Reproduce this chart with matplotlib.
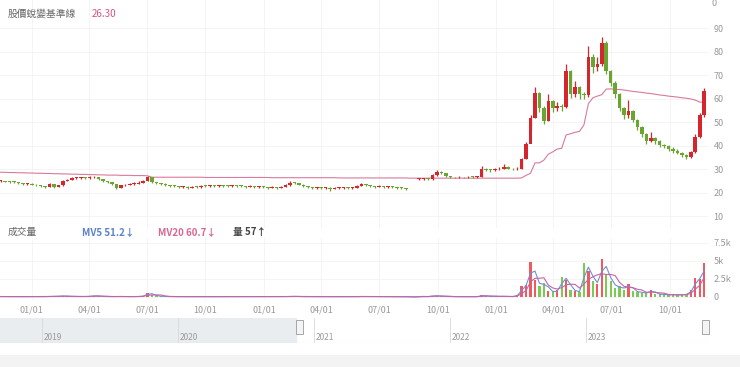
import numpy as np
import pandas as pd
import matplotlib
matplotlib.use("Agg")
import matplotlib.pyplot as plt
import matplotlib.dates as mdates
from matplotlib.patches import Rectangle
from matplotlib.ticker import FuncFormatter

plt.rcParams['font.family'] = ['Noto Sans CJK TC', 'DejaVu Sans']

# weekly candles, first week 2020-11-13
start_date = "2020-11-13"
close = [25.0, 24.8, 24.6, 24.5, 24.2, 23.8, 24.0, 23.6, 23.2, 23.0,
         22.6, 23.8, 22.6, 23.2, 25.2, 25.6, 26.2, 26.4, 26.5, 26.3,
         26.6, 26.8, 25.9, 25.0, 24.5, 23.8, 22.2, 23.2, 23.6, 23.8,
         24.0, 24.4, 25.0, 26.6, 24.6, 24.2, 24.0, 23.4, 23.0, 22.8,
         22.4, 22.6, 22.2, 22.6, 22.4, 23.0, 22.8, 23.2, 22.9, 23.1,
         23.0, 22.8, 23.2, 23.0, 22.8, 22.6, 22.8, 22.4, 22.6, 22.4,
         22.2, 22.4, 22.2, 22.6, 23.2, 24.4, 24.2, 23.6, 23.0, 22.4,
         22.0, 22.1, 22.0, 22.3, 21.6, 22.0, 22.1, 22.2, 22.0, 22.3,
         23.0, 23.9, 23.4, 23.0, 22.6, 22.8, 22.4, 22.6, 22.4, 22.2,
         22.0, 21.7, np.nan, np.nan, 25.9, 26.0, 25.8, 27.6, 29.0, 28.6,
         27.2, 26.8, 26.6, 26.8, 26.6, 26.8, 26.7, 27.0, 30.4, 29.8,
         29.6, 30.0, 30.4, 31.2, 30.4, 30.0, 30.4, 34.5, 41.0, 52.0,
         62.5, 56.0, 50.5, 59.0, 56.0, 57.0, 56.5, 72.0, 62.0, 65.0,
         62.0, 61.5, 78.0, 73.5, 75.0, 84.0, 72.0, 67.0, 62.0, 56.0,
         53.0, 55.0, 51.0, 48.0, 45.0, 42.0, 43.5, 42.0, 40.5, 40.0,
         38.5, 38.0, 37.0, 36.0, 35.5, 37.5, 44.0, 53.0, 63.5]
high = [25.4, 25.2, 25.0, 24.9, 24.7, 24.3, 24.4, 24.1, 23.8, 23.4,
        23.1, 24.3, 23.9, 23.6, 25.6, 26.1, 26.7, 26.9, 27.0, 26.8,
        27.1, 27.4, 26.9, 26.0, 25.1, 24.6, 23.9, 23.6, 24.0, 24.3,
        24.5, 24.9, 25.6, 27.3, 26.7, 24.8, 24.4, 24.1, 23.6, 23.2,
        23.0, 23.0, 22.8, 23.0, 22.9, 23.4, 23.3, 23.6, 23.4, 23.5,
        23.4, 23.2, 23.6, 23.5, 23.2, 23.0, 23.2, 22.9, 23.0, 22.8,
        22.7, 22.8, 22.6, 23.0, 23.7, 24.9, 24.8, 24.3, 23.7, 23.1,
        22.5, 22.5, 22.4, 22.7, 22.4, 22.4, 22.5, 22.6, 22.4, 22.7,
        23.4, 24.3, 24.0, 23.5, 23.1, 23.2, 22.9, 23.0, 22.8, 22.6,
        22.4, 22.1, np.nan, np.nan, 26.4, 26.3, 26.2, 28.2, 29.8, 29.3,
        28.7, 27.3, 27.0, 27.2, 27.0, 27.2, 27.1, 27.4, 31.3, 30.6,
        30.2, 30.5, 31.0, 32.2, 31.3, 30.6, 30.9, 35.0, 41.5, 53.0,
        65.0, 63.0, 57.0, 62.0, 59.5, 58.5, 58.0, 75.0, 72.5, 67.5,
        65.5, 63.0, 82.5, 79.0, 78.0, 86.5, 84.5, 72.5, 67.5, 62.5,
        56.5, 59.5, 55.5, 51.5, 48.5, 45.5, 46.0, 44.0, 42.5, 41.0,
        40.5, 39.5, 38.5, 37.5, 36.5, 38.0, 45.0, 54.0, 64.5]
low = [24.7, 24.5, 24.3, 24.2, 23.9, 23.5, 23.6, 23.3, 22.9, 22.6,
       22.2, 22.5, 22.3, 22.4, 23.1, 25.0, 25.5, 25.9, 26.0, 25.9,
       26.1, 26.3, 25.6, 24.6, 24.1, 23.4, 21.8, 22.0, 23.0, 23.4,
       23.6, 23.9, 24.3, 24.9, 24.2, 23.8, 23.6, 23.0, 22.6, 22.4,
       22.0, 22.1, 21.8, 22.0, 22.0, 22.3, 22.4, 22.7, 22.5, 22.7,
       22.6, 22.4, 22.7, 22.6, 22.4, 22.2, 22.4, 22.0, 22.2, 22.0,
       21.8, 22.0, 21.8, 22.1, 22.5, 23.1, 23.8, 23.2, 22.6, 22.0,
       21.6, 21.7, 21.6, 21.9, 20.8, 21.5, 21.7, 21.8, 21.6, 21.9,
       22.2, 22.9, 23.0, 22.6, 22.2, 22.4, 22.0, 22.2, 22.0, 21.8,
       21.6, 21.4, np.nan, np.nan, 25.5, 25.6, 25.4, 25.7, 27.4, 28.0,
       26.8, 26.4, 26.2, 26.4, 26.2, 26.4, 26.3, 26.5, 26.9, 29.2,
       29.1, 29.4, 29.8, 30.2, 30.0, 29.6, 29.8, 30.2, 34.4, 47.0,
       52.0, 54.5, 49.5, 50.5, 54.5, 55.0, 55.0, 56.0, 60.5, 61.0,
       60.0, 60.0, 61.0, 71.0, 72.0, 74.0, 70.5, 65.5, 60.5, 55.0,
       51.5, 52.0, 50.0, 47.0, 44.0, 41.0, 41.5, 41.0, 39.5, 39.0,
       38.0, 37.0, 36.5, 35.5, 34.5, 35.0, 37.0, 43.5, 52.5]
baseline = [28.8, 28.8, 28.7, 28.7, 28.6, 28.6, 28.5, 28.5, 28.4, 28.4,
            28.3, 28.3, 28.2, 28.2, 28.1, 28.1, 28.0, 28.0, 27.9, 27.9,
            27.8, 27.8, 27.7, 27.7, 27.6, 27.6, 27.6, 27.5, 27.5, 27.5,
            27.4, 27.4, 27.4, 27.3, 26.7, 26.7, 26.7, 26.7, 26.7, 26.7,
            26.7, 26.7, 26.7, 26.7, 26.7, 26.7, 26.6, 26.6, 26.6, 26.6,
            26.6, 26.6, 26.6, 26.6, 26.6, 26.6, 26.6, 26.6, 26.6, 26.6,
            26.6, 26.5, 26.5, 26.5, 26.5, 26.5, 26.5, 26.5, 26.5, 26.5,
            26.5, 26.5, 26.5, 26.5, 26.5, 26.5, 26.4, 26.4, 26.4, 26.4,
            26.4, 26.4, 26.4, 26.4, 26.4, 26.4, 26.4, 26.4, 26.4, 26.4,
            26.4, 26.4, 26.3, 26.3, 26.3, 26.3, 26.3, 26.3, 26.3, 26.3,
            26.3, 26.3, 26.3, 26.3, 26.3, 26.3, 26.3, 26.3, 26.3, 26.3,
            26.3, 26.3, 26.3, 26.3, 26.3, 26.3, 26.3, 26.4, 27.5, 28.4,
            32.8, 32.8, 34.0, 36.5, 37.5, 38.7, 39.0, 44.7, 45.2, 45.8,
            46.2, 49.0, 58.0, 60.5, 61.2, 61.8, 64.2, 64.3, 64.1, 64.0,
            63.8, 63.5, 63.2, 63.0, 62.8, 62.5, 62.3, 62.0, 61.7, 61.5,
            61.2, 61.0, 60.8, 60.5, 60.3, 60.0, 59.5, 58.7, 58.5]
# volume in thousands
volume = [0.06, 0.05, 0.05, 0.04, 0.05, 0.05, 0.06, 0.05, 0.05, 0.04,
          0.05, 0.08, 0.06, 0.12, 0.15, 0.08, 0.06, 0.05, 0.06, 0.08,
          0.1, 0.2, 0.1, 0.06, 0.05, 0.05, 0.08, 0.06, 0.05, 0.05,
          0.06, 0.08, 0.15, 0.6, 0.3, 0.12, 0.08, 0.06, 0.05, 0.05,
          0.04, 0.05, 0.05, 0.04, 0.05, 0.05, 0.04, 0.05, 0.05, 0.04,
          0.04, 0.05, 0.04, 0.04, 0.05, 0.04, 0.04, 0.05, 0.04, 0.04,
          0.04, 0.05, 0.04, 0.05, 0.06, 0.1, 0.08, 0.05, 0.04, 0.04,
          0.04, 0.04, 0.05, 0.04, 0.06, 0.04, 0.04, 0.05, 0.04, 0.05,
          0.06, 0.08, 0.05, 0.04, 0.04, 0.04, 0.04, 0.04, 0.04, 0.04,
          0.04, 0.04, 0.0, 0.0, 0.1, 0.06, 0.05, 0.2, 0.15, 0.08,
          0.06, 0.05, 0.04, 0.04, 0.05, 0.04, 0.04, 0.06, 0.25, 0.12,
          0.08, 0.06, 0.1, 0.08, 0.06, 0.05, 0.3, 1.5, 1.7, 4.9,
          2.3, 1.5, 2.0, 0.8, 0.7, 0.9, 2.8, 2.4, 1.0, 0.8,
          0.7, 4.7, 3.6, 2.2, 1.8, 5.3, 3.2, 2.2, 1.2, 1.5,
          1.0, 1.8, 0.8, 0.7, 0.6, 0.5, 1.0, 0.4, 0.4, 0.3,
          0.3, 0.3, 0.3, 0.3, 0.4, 1.0, 2.6, 2.5, 4.7]

year_labels = ["2019", "2020", "2021", "2022", "2023"]

W, H = 740, 367
fig = plt.figure(figsize=(W / 100, H / 100), dpi=100)
fig.patch.set_facecolor("white")


def px_axes(x0, y0, x1, y1):
    return fig.add_axes([x0 / W, 1 - y1 / H, (x1 - x0) / W, (y1 - y0) / H])


dates = pd.date_range(start_date, periods=len(close), freq="7D")
df = pd.DataFrame({"close": close, "high": high, "low": low,
                   "base": baseline, "vol": volume}, index=dates)
df["open"] = df["close"].shift(1).fillna(df["close"])
up = df["close"] >= df["open"]
RED, GREEN = "#d3262d", "#6aa532"
col = np.where(up, RED, GREEN)

xl = (pd.Timestamp("2020-11-12"), pd.Timestamp("2020-11-12") + pd.Timedelta(days=1113))
qticks = pd.date_range("2021-01-01", "2023-10-01", freq="QS")

# ---- price panel
ax = px_axes(0, 0, 708, 228)
ax.set_xlim(xl)
ax.set_ylim(5.1, 102.1)
for s in ax.spines.values():
    s.set_visible(False)
ax.set_yticks(range(10, 100, 10))
ax.yaxis.tick_right()
ax.tick_params(axis="y", length=0, pad=4, labelsize=6.5, labelcolor="#999999")
ax.set_xticks(qticks)
ax.tick_params(axis="x", length=0, labelbottom=False)
ax.grid(True, color="#f2f2f2", lw=0.6)
ax.set_axisbelow(True)

ax.plot(df.index, df["base"], color="#d87a9c", lw=0.8, zorder=2)
ax.vlines(df.index, df["low"], df["high"], colors=col, lw=0.9, zorder=3)
body = (df["close"] - df["open"]).abs().clip(lower=0.4)
ax.bar(df.index, body, bottom=df[["open", "close"]].min(axis=1),
       width=5.6, color=col, lw=0, zorder=4)

# ---- volume panel
axv = px_axes(0, 238, 708, 300)
axv.set_xlim(xl)
axv.set_ylim(-0.42, 8.19)
for s in axv.spines.values():
    s.set_visible(False)
axv.set_yticks([0, 2.5, 5, 7.5])
axv.yaxis.tick_right()
axv.yaxis.set_major_formatter(FuncFormatter(lambda v, p: "0" if v == 0 else f"{v:g}k"))
axv.tick_params(axis="y", length=0, pad=4, labelsize=6.5, labelcolor="#999999")
axv.set_xticks(qticks)
axv.xaxis.set_major_formatter(mdates.DateFormatter("%m/%d"))
axv.tick_params(axis="x", length=0, pad=4, labelsize=6.5, labelcolor="#999999")
axv.grid(True, color="#f2f2f2", lw=0.6)
axv.set_axisbelow(True)

vcol = np.where(up, "#f05a5e", "#7acb52")
axv.bar(df.index, df["vol"], width=3.6, color=vcol, lw=0, zorder=3)
mv5 = df["vol"].rolling(2, min_periods=1).mean()
mv20 = df["vol"].rolling(4, min_periods=1).mean()
axv.plot(df.index, mv5, color="#6d90d8", lw=0.8, zorder=4)
axv.plot(df.index, mv20, color="#c763a5", lw=0.8, zorder=4)

# ---- navigator
axn = px_axes(0, 318, 708, 343)
nav_l = pd.Timestamp("2018-09-10")
axn.set_xlim(nav_l, nav_l + pd.Timedelta(days=1902))
axn.set_ylim(0, 1)
axn.axis("off")
axn.axvspan(nav_l, xl[0], color="#e9edf0", zorder=1)
for y in year_labels:
    d = pd.Timestamp(f"{y}-01-01")
    axn.axvline(d, color="#d8d8d8", lw=0.6, zorder=2)
    axn.text(d + pd.Timedelta(days=5), 0.22, y, fontsize=6, color="#9a9a9a",
             ha="left", va="center", zorder=3)
axn.axhline(0, color="#d0d0d0", lw=0.8)

for hx in (295.5, 701.5):
    fig.add_artist(Rectangle((hx / W, 1 - 334 / H), 7 / W, 14 / H,
                             transform=fig.transFigure, facecolor="#f4f4f4",
                             edgecolor="#9a9a9a", lw=0.6))

fig.add_artist(Rectangle((0, 0), 1, 12 / H, transform=fig.transFigure,
                         facecolor="#f3f3f3", edgecolor="none"))

# ---- header texts
def ftext(x, y, s, **kw):
    fig.text(x / W, 1 - y / H, s, va="center", ha="left", **kw)


ftext(8, 14, "股價蛻變基準線", fontsize=7, color="#666666")
ftext(92, 14, "26.30", fontsize=7, color="#d4557e")
ftext(711, 3, "0", fontsize=6.5, color="#999999")
ftext(8, 232, "成交量", fontsize=7, color="#666666")
ftext(82, 232, "MV5 51.2↓", fontsize=7, color="#5b82cc", fontweight="bold")
ftext(158, 232, "MV20 60.7↓", fontsize=7, color="#d96891", fontweight="bold")
ftext(233, 232, "量 57↑", fontsize=7, color="#444444", fontweight="bold")

fig.savefig("out.png", dpi=100)
